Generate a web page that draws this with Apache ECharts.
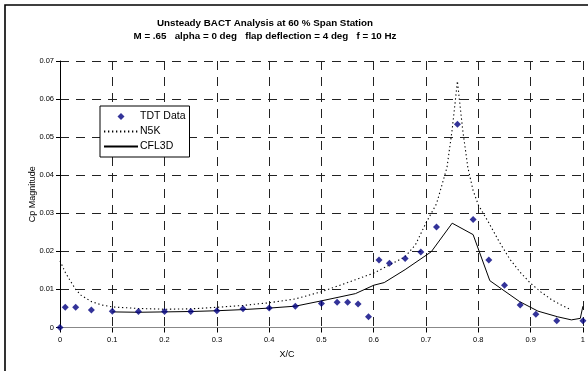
<!DOCTYPE html>
<html>
<head>
<meta charset="utf-8">
<script src="https://cdn.jsdelivr.net/npm/echarts@6/dist/echarts.min.js"></script>
<style>
html,body{margin:0;padding:0;background:#fff;}
#chart{width:588px;height:371px;}
</style>
</head>
<body>
<div id="chart"></div>
<script>
// ---- Data ----
var titleLine1 = 'Unsteady BACT Analysis at 60 % Span Station';
var titleLine2 = 'M = .65   alpha = 0 deg   flap deflection = 4 deg   f = 10 Hz';
var xAxisTitle = 'X/C';
var yAxisTitle = 'Cp Magnitude';
var seriesNames = ['TDT Data', 'N5K', 'CFL3D'];

var tdtX = [0, 0.01, 0.03, 0.06, 0.1, 0.15, 0.2, 0.25, 0.3, 0.35, 0.4, 0.45, 0.5, 0.53, 0.55, 0.57, 0.59, 0.61, 0.63, 0.66, 0.69, 0.72, 0.76, 0.79, 0.82, 0.85, 0.88, 0.91, 0.95, 1.0];
var tdtY = [0, 0.0053, 0.0053, 0.0046, 0.0043, 0.0042, 0.0042, 0.0042, 0.0044, 0.0049, 0.0051, 0.0056, 0.0063, 0.0066, 0.0066, 0.0062, 0.0028, 0.0177, 0.0169, 0.0181, 0.0198, 0.0264, 0.0534, 0.0284, 0.0177, 0.0111, 0.0059, 0.0035, 0.0018, 0.0018];

var n5kX = [0, 0.01, 0.02, 0.03, 0.04, 0.06, 0.08, 0.1, 0.15, 0.2, 0.25, 0.3, 0.35, 0.4, 0.45, 0.5, 0.55, 0.6, 0.63, 0.66, 0.68, 0.70, 0.72, 0.74, 0.75, 0.76, 0.77, 0.78, 0.79, 0.80, 0.82, 0.84, 0.86, 0.88, 0.90, 0.92, 0.94, 0.96, 0.978];
var n5kY = [0.0175, 0.0145, 0.0122, 0.0100, 0.0085, 0.0068, 0.0059, 0.0054, 0.0050, 0.0048, 0.0049, 0.0053, 0.0058, 0.0065, 0.0075, 0.0094, 0.0118, 0.0143, 0.0164, 0.0186, 0.0218, 0.0275, 0.0325, 0.0420, 0.0520, 0.0647, 0.0520, 0.0420, 0.0360, 0.0322, 0.0275, 0.0225, 0.0180, 0.0145, 0.0116, 0.0093, 0.0073, 0.0058, 0.0046];

var cflX = [0.1, 0.15, 0.2, 0.25, 0.3, 0.35, 0.4, 0.45, 0.5, 0.565, 0.6, 0.62, 0.66, 0.71, 0.75, 0.79, 0.822, 0.851, 0.879, 0.914, 0.952, 0.978, 0.995, 1.0];
var cflY = [0.0041, 0.0040, 0.0041, 0.0042, 0.0044, 0.0047, 0.0051, 0.0056, 0.0070, 0.0089, 0.0111, 0.0118, 0.0152, 0.0199, 0.0274, 0.0244, 0.0123, 0.0095, 0.0068, 0.0043, 0.0028, 0.0020, 0.0024, 0.0056];

function pairs(xs, ys) { return xs.map(function (x, i) { return [x, ys[i]]; }); }

var FONT = 'Liberation Sans, Arial, Helvetica, sans-serif';
var gridDash = [9, 7];

var chart = echarts.init(document.getElementById('chart'), null, {renderer: 'canvas'});
chart.setOption({
  animation: false,
  backgroundColor: '#ffffff',
  textStyle: {fontFamily: FONT},
  grid: {left: 60, top: 61, right: 3, bottom: 43.5, containLabel: false},
  graphic: [
    {type: 'rect', shape: {x: 5, y: 5, width: 700, height: 500}, style: {fill: 'none', stroke: '#000', lineWidth: 1.6}, z: 100, silent: true},
    {type: 'text', x: 265, y: 23.5, style: {text: titleLine1, font: 'bold 9.8px ' + FONT, fill: '#000', textAlign: 'center', textVerticalAlign: 'middle'}},
    {type: 'text', x: 265, y: 36.5, style: {text: titleLine2, font: 'bold 9.8px ' + FONT, fill: '#000', textAlign: 'center', textVerticalAlign: 'middle'}},
    {type: 'text', x: 287, y: 355, style: {text: xAxisTitle, font: '9px ' + FONT, fill: '#000', textAlign: 'center', textVerticalAlign: 'middle'}}
  ],
  legend: {
    orient: 'vertical',
    left: 100, top: 106,
    backgroundColor: '#fff',
    borderColor: '#000', borderWidth: 1, borderRadius: 0,
    padding: [5, 4, 5, 3],
    itemWidth: 34, itemHeight: 7, itemGap: 4,
    symbolKeepAspect: true,
    textStyle: {fontFamily: FONT, fontSize: 10.5, color: '#000', padding: [0, 0, 0, -3]},
    data: [
      {name: seriesNames[0], icon: 'path://M0,-1L1,0L0,1L-1,0Z'},
      {name: seriesNames[1], itemStyle: {opacity: 0}},
      {name: seriesNames[2], itemStyle: {opacity: 0}}
    ],
    z: 10
  },
  xAxis: [{
    type: 'value', min: 0, max: 1, interval: 0.1,
    axisLine: {show: true, onZero: false, lineStyle: {color: '#000', width: 1}},
    axisTick: {show: true, inside: false, length: 5, lineStyle: {color: '#000'}},
    axisLabel: {fontSize: 7.5, color: '#000', margin: 8, fontFamily: FONT},
    splitLine: {show: true, lineStyle: {color: '#222', width: 1, type: gridDash}}
  }, {
    type: 'value', min: 0, max: 1, position: 'top', z: 3,
    axisLine: {show: true, lineStyle: {color: '#888', width: 1}},
    axisTick: {show: false}, axisLabel: {show: false}, splitLine: {show: false}
  }],
  yAxis: {
    type: 'value', min: 0, max: 0.07, interval: 0.01,
    name: yAxisTitle, nameLocation: 'middle', nameGap: 23, nameRotate: 90,
    nameMoveOverlap: false,
    nameTextStyle: {fontSize: 9, color: '#000', fontFamily: FONT},
    axisLine: {show: true, onZero: false, lineStyle: {color: '#000', width: 1}},
    axisTick: {show: true, inside: false, length: 4, lineStyle: {color: '#000'}},
    axisLabel: {fontSize: 7.5, color: '#000', margin: 6, fontFamily: FONT},
    splitLine: {show: true, lineStyle: {color: '#222', width: 1, type: gridDash}}
  },
  series: [
    {
      name: seriesNames[0], type: 'scatter', data: pairs(tdtX, tdtY),
      symbol: 'diamond', symbolSize: 7, z: 5,
      itemStyle: {color: '#000080'}
    },
    {
      name: seriesNames[1], type: 'line', data: pairs(n5kX, n5kY),
      symbol: 'none', showSymbol: false, smooth: false,
      lineStyle: {color: '#000', width: 1.1, type: [1.3, 2.7]},
      itemStyle: {color: '#000'}
    },
    {
      name: seriesNames[2], type: 'line', data: pairs(cflX, cflY),
      symbol: 'none', showSymbol: false, smooth: false,
      lineStyle: {color: '#000', width: 1, type: 'solid'},
      itemStyle: {color: '#000'}
    }
  ]
});
</script>
</body>
</html>
